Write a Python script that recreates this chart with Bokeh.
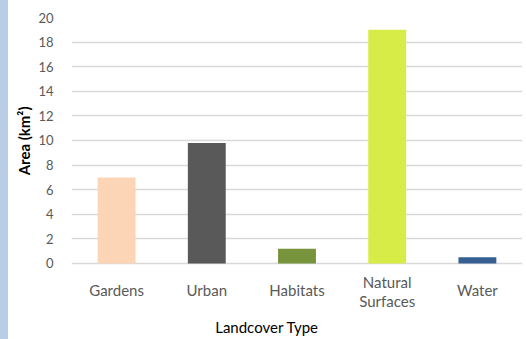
from bokeh.plotting import figure
from bokeh.models import ColumnDataSource, Div, Title
from bokeh.layouts import row
from bokeh.core.properties import value
from bokeh.embed import file_html
from bokeh.resources import INLINE

categories = ["Gardens", "Urban", "Habitats", "Natural Surfaces", "Water"]
areas = [7.0, 9.8, 1.2, 19.0, 0.5]
colors = ["#fbd5b5", "#595959", "#77933c", "#d7ec46", "#376092"]
y_ticks = [0, 2, 4, 6, 8, 10, 12, 14, 16, 18, 20]
x_title = "Landcover Type"
y_title = "Area (km²)"

src = ColumnDataSource(dict(cat=categories, area=areas, color=colors))

font = "Lato"

# the frame reaches the bottom of the canvas so the category labels and the
# x title (drawn as text glyphs) are not clipped
p = figure(x_range=categories, y_range=(-6.18, 20), width=518, height=339,
           output_backend="svg", toolbar_location=None,
           min_border_left=63, min_border_right=4, min_border_top=17, min_border_bottom=0,
           margin=0)
p.vbar(x="cat", top="area", bottom=0, width=0.42, fill_color="color", line_color=None, source=src)

p.outline_line_color = None
p.xgrid.grid_line_color = None
p.ygrid.grid_line_color = "#d9d9d9"
p.ygrid.grid_line_width = 1.5
p.yaxis.ticker = y_ticks
p.xaxis.visible = False

p.yaxis.axis_line_color = None
p.yaxis.major_tick_line_color = None
p.yaxis.minor_tick_line_color = None
p.yaxis.major_label_text_font = font
p.yaxis.major_label_text_color = "#595959"
p.yaxis.major_label_text_font_size = "13px"
p.yaxis.major_label_standoff = 12

p.add_layout(Title(text=y_title, align="right", offset=89, vertical_align="bottom",
                   standoff=6, text_font=font, text_font_size="15px",
                   text_font_style="bold", text_color="#000000"), "left")

lab_cat, lab_text, lab_off = [], [], []
for c in categories:
    words = c.split()
    if len(words) > 1:
        for i, w in enumerate(words):
            lab_cat.append(c)
            lab_text.append(w)
            lab_off.append(19 + 19 * i)
    else:
        lab_cat.append(c)
        lab_text.append(c)
        lab_off.append(27)
lsrc = ColumnDataSource(dict(cat=lab_cat, text=lab_text, off=lab_off, y=[0] * len(lab_cat)))
p.text(x="cat", y="y", text="text", y_offset="off", source=lsrc,
       text_align="center", text_baseline="middle",
       text_font=value(font), text_font_size="15px", text_color="#595959")

tsrc = ColumnDataSource(dict(cat=[categories[2]], y=[0], text=[x_title]))
p.text(x="cat", y="y", text="text", x_offset=-30, y_offset=64, source=tsrc,
       text_align="center", text_baseline="middle",
       text_font=value(font), text_font_size="15px", text_color="#000000")

strip = Div(width=8, height=339, margin=0,
            styles={"background-color": "#b9cde5", "height": "339px", "width": "8px"})
layout = row(strip, p, spacing=0, margin=0)

open("out.html", "w").write(file_html(layout, INLINE))
